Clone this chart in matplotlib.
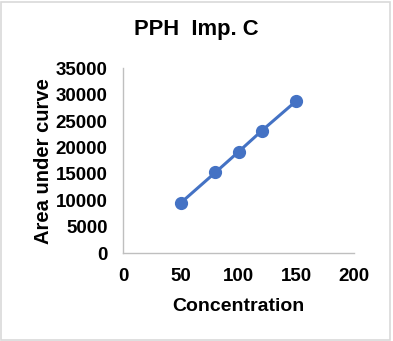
import matplotlib

matplotlib.use("Agg")
import matplotlib.pyplot as plt  # noqa: E402
from matplotlib.patches import Rectangle  # noqa: E402

plt.rcParams["font.family"] = ["Liberation Sans", "DejaVu Sans"]

# calibration data
concentration = [50, 80, 100, 120, 150]
area = [9500, 15270, 19170, 23140, 28810]
x_ticks = [0, 50, 100, 150, 200]
y_ticks = [0, 5000, 10000, 15000, 20000, 25000, 30000, 35000]

blue = "#4472C4"
grey = "#BFBFBF"

fig = plt.figure(figsize=(3.93, 3.41), dpi=100)
ax = fig.add_axes([0.313, 0.258, 0.588, 0.542])

ax.plot(concentration, area, "-o", color=blue, linewidth=2.2, markersize=8.5)

ax.set_xlim(0, 200)
ax.set_ylim(0, 35000)
ax.set_xticks(x_ticks)
ax.set_yticks(y_ticks)
ax.tick_params(axis="x", length=0, labelsize=13.5, pad=11)
ax.tick_params(axis="y", length=0, labelsize=13.5, pad=11)
for lbl in ax.get_xticklabels() + ax.get_yticklabels():
    lbl.set_fontweight("bold")

for side in ("top", "right"):
    ax.spines[side].set_visible(False)
for side in ("left", "bottom"):
    ax.spines[side].set_color(grey)
    ax.spines[side].set_linewidth(1)

ax.set_xlabel("Concentration", fontsize=14, fontweight="bold", labelpad=9)
ax.set_ylabel("Area under curve", fontsize=14.5, fontweight="bold", labelpad=2)
fig.text(0.5, 0.913, "PPH  Imp. C", ha="center", va="center",
         fontsize=15.8, fontweight="bold")

# chart frame
fig.add_artist(Rectangle((0.003, 0.003), 0.989, 0.992, transform=fig.transFigure,
                         fill=False, edgecolor="#D9D9D9", linewidth=1.2))

fig.savefig("out.png", dpi=100)
